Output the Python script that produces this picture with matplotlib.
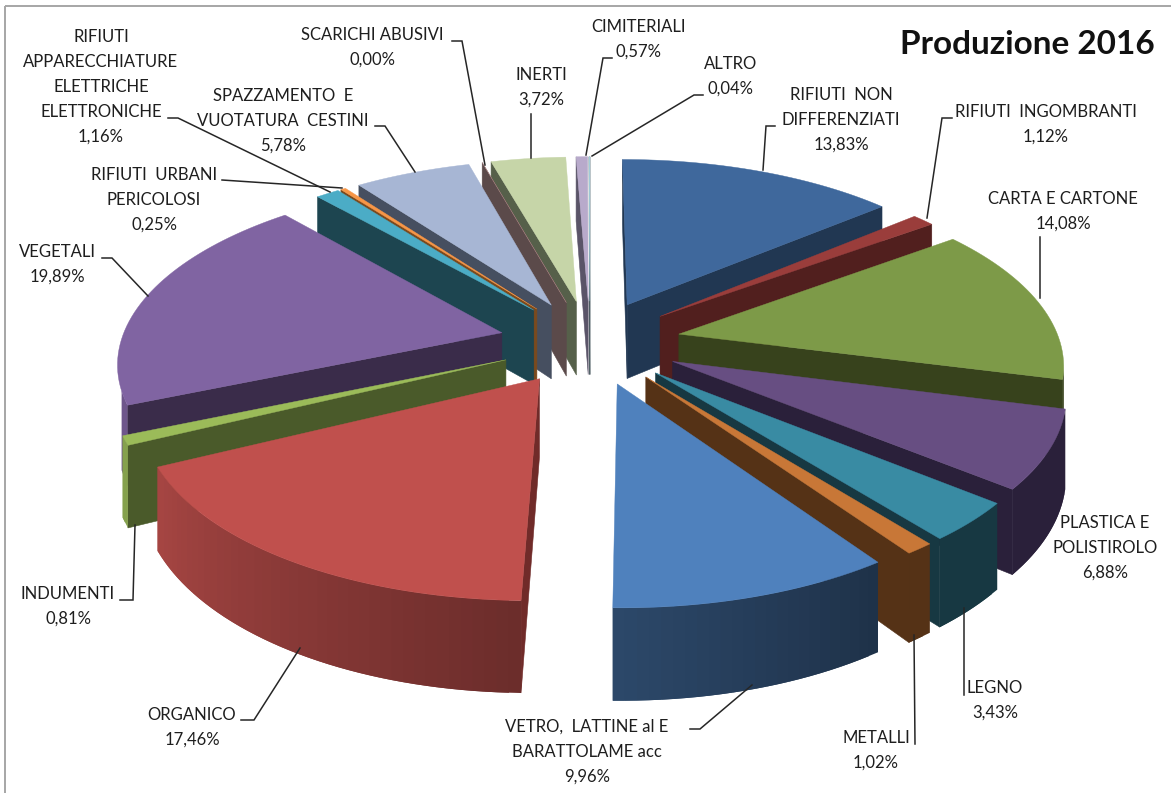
import numpy as np
import matplotlib
matplotlib.use("Agg")
import matplotlib.pyplot as plt
from matplotlib.patches import Rectangle

plt.rcParams['font.family'] = ['Lato', 'DejaVu Sans']

# ---- data -------------------------------------------------------------
categories = ["RIFIUTI  NON\nDIFFERENZIATI", "RIFIUTI  INGOMBRANTI", "CARTA E CARTONE",
              "PLASTICA E\nPOLISTIROLO", "LEGNO", "METALLI",
              "VETRO,  LATTINE al E\nBARATTOLAME acc", "ORGANICO", "INDUMENTI", "VEGETALI",
              "RIFIUTI\nAPPARECCHIATURE\nELETTRICHE\nELETTRONICHE", "RIFIUTI  URBANI\nPERICOLOSI",
              "SPAZZAMENTO  E\nVUOTATURA  CESTINI", "SCARICHI ABUSIVI", "INERTI", "CIMITERIALI", "ALTRO"]
values = [13.83, 1.12, 14.08, 6.88, 3.43, 1.02, 9.96, 17.46, 0.81, 19.89,
          1.16, 0.25, 5.78, 0.00, 3.72, 0.57, 0.04]
title = "Produzione 2016"

# ---- styles ------------------------------------------------------------
top_colors = ["#3F689C", "#9A3D3B", "#7D9A48", "#674E82", "#398BA3", "#C87737",
              "#4F81BD", "#C0504D", "#9BBB59", "#8064A2", "#4BACC6", "#F79646",
              "#A7B6D4", "#D7A3A2", "#C6D5A8", "#B8AACB", "#A8D6E3"]
wall_colors = ["#213752", "#511F1E", "#37421C", "#2A203A", "#173842", "#553216",
               "#1E3149", "#702B29", "#4A5A2A", "#3A2C4A", "#1D4550", "#7A4A1E",
               "#464F60", "#5B4A4A", "#56604A", "#5A5468", "#4A5A60"]
label_x = [841, 1046, 1063, 1105, 995, 876, 587, 192, 68, 57, 101, 154, 283, 372, 541, 638, 731]
label_y = [95, 112, 199, 523, 688, 738, 727, 715, 594, 252, 37, 175, 96, 35, 75, 27, 64]
leaders = [[(775, 126), (766, 126), (763, 170)],
           [(952, 118), (942, 118), (927, 218)],
           [(1040, 237), (1040, 298)],
           None,
           [(964, 608), (964, 695)],
           [(914, 635), (915, 744)],
           [(690, 729), (700, 729), (752, 685)],
           [(241, 720), (254, 720), (300, 648)],
           [(120, 600), (133, 600), (135, 525)],
           [(102, 258), (112, 258), (148, 296)],
           [(168, 118), (178, 118), (330, 192)],
           [(222, 180), (342, 188)],
           [(375, 126), (385, 126), (415, 172)],
           [(452, 41), (462, 41), (485, 165)],
           [(531, 114), (531, 158)],
           [(612, 58), (603, 58), (586, 155)],
           [(703, 95), (694, 95), (592, 156)]]

CX, CY, RX, RY, EXPLODE, PERSP, DEPTH = 590, 342, 381, 177, 0.239, 0.148, 76


def project(X, Y, Z):
    s = 1.0 / (1.0 - PERSP * np.asarray(Y))
    return CX + RX * np.asarray(X) * s, CY + RY * np.asarray(Y) * s + DEPTH * Z * s


def shade(color, f):
    return tuple(min(1, c * f) for c in matplotlib.colors.to_rgb(color))


fig = plt.figure(figsize=(11.71, 7.93), dpi=100, facecolor="white")
ax = fig.add_axes([0, 0, 1, 1])
ax.set_xlim(0, 1171)
ax.set_ylim(793, 0)
ax.axis("off")
ax.add_patch(Rectangle((5, 6), 1300, 900, fill=False, ec="#A6A6A6", lw=1.4))

edges = np.concatenate([[0], np.cumsum(values)]) / sum(values) * 2 * np.pi
mids = (edges[:-1] + edges[1:]) / 2
order = np.argsort(-np.cos(mids))

z = 2
for i in order:
    a0, a1 = edges[i], edges[i + 1]
    n = max(2, int(np.degrees(a1 - a0) / 1.5) + 2)
    th = np.linspace(a0, a1, n)
    ox, oy = EXPLODE * np.sin(mids[i]), -EXPLODE * np.cos(mids[i])
    X = np.concatenate([[ox], ox + np.sin(th)])
    Y = np.concatenate([[oy], oy - np.cos(th)])
    tx, ty = project(X, Y, 0)
    bx, by = project(X, Y, 1)
    m = len(X)
    # walls: first the two straight sides, then the rim with overlapping strips
    for j in [0, m - 1] + list(range(1, m - 1)):
        k = (j + 1) % m
        qx = [tx[j], tx[k], bx[k], bx[j]]
        qy = [ty[j], ty[k], by[k], by[j]]
        area = sum(qx[p] * qy[(p + 1) % 4] - qx[(p + 1) % 4] * qy[p] for p in range(4))
        if area >= 0:
            continue
        color = wall_colors[i]
        if 1 <= j < m - 1:
            deg = np.degrees((th[j - 1] + th[j]) / 2)
            if deg > 249.5:         # the far left of the rim is not shown in the reference
                continue
            if deg >= 145:
                color = shade(top_colors[i], 0.38 + (min(deg, 242) - 145) / 97 * 0.48)
            k2 = min(j + 2, m - 1)
            qx = [tx[j], tx[k2], bx[k2], bx[j]]
            qy = [ty[j], ty[k2], by[k2], by[j]]
            ax.fill(qx, qy, facecolor=color, edgecolor="none", lw=0, zorder=z)
        else:
            ax.fill(qx, qy, facecolor=color, edgecolor=color, lw=0.4, zorder=z)
        z += 1
    ax.fill(tx, ty, facecolor=top_colors[i], edgecolor=top_colors[i], lw=0.3, zorder=z)
    z += 1

LINE = 25
for i, name in enumerate(categories):
    text_lines = name.split("\n") + [f"{values[i]:.2f}%".replace(".", ",")]
    for j, line in enumerate(text_lines):
        ax.text(label_x[i], label_y[i] + j * LINE, line, ha="center", va="center",
                fontsize=12, color="#1E1E1E", zorder=5000)
    if leaders[i]:
        xs, ys = zip(*leaders[i])
        ax.plot(xs, ys, color="#262626", lw=1.1, zorder=4000, solid_joinstyle="miter")

ax.text(1155, 45, title, ha="right", va="center", fontsize=24, fontweight="bold",
        color="#111111", zorder=5000)

fig.savefig("out.png", dpi=100, facecolor="white")
